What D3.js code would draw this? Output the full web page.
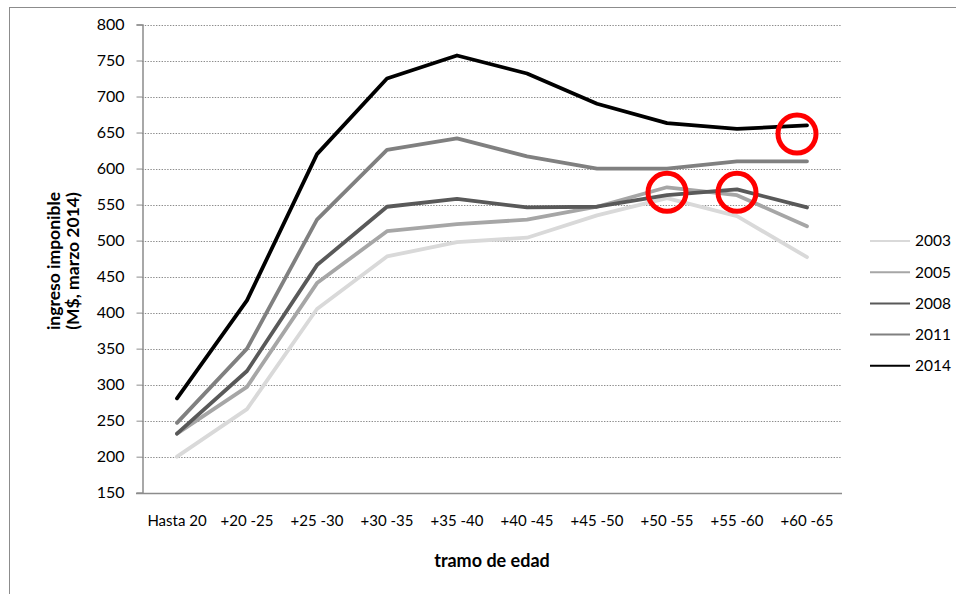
<!DOCTYPE html>
<html>
<head>
<meta charset="utf-8">
<script src="https://cdn.jsdelivr.net/npm/d3@7"></script>
<style>
  body { margin: 0; background: #fff; }
  svg { font-family: Lato, "Open Sans", sans-serif; }
</style>
</head>
<body>
<svg id="svg"></svg>
<script>
// age brackets on the x axis
let categories = ["Hasta 20", "+20 -25", "+25 -30", "+30 -35", "+35 -40", "+40 -45", "+45 -50", "+50 -55", "+55 -60", "+60 -65"];
let yTicks = [150, 200, 250, 300, 350, 400, 450, 500, 550, 600, 650, 700, 750, 800];

let years = ["2003", "2005", "2008", "2011", "2014"];
let v2003 = [200, 266, 405, 478, 498, 504, 535, 559, 534, 477];
let v2005 = [232, 297, 441, 513, 523, 529, 547, 574, 563, 520];
let v2008 = [232, 319, 466, 547, 558, 546, 547, 563, 571, 546];
let v2011 = [247, 350, 529, 626, 642, 617, 600, 600, 610, 610];
let v2014 = [281, 417, 620, 725, 757, 732, 690, 663, 655, 660];

// red circles drawn on top of the chart
let markCats = ["+50 -55", "+55 -60", "+60 -65"];
let markVals = [567, 567, 648];

let width = 956, height = 594;
let colors = {"2003": "#d9d9d9", "2005": "#a6a6a6", "2008": "#595959", "2011": "#808080", "2014": "#000000"};
let seriesData = {"2003": v2003, "2005": v2005, "2008": v2008, "2011": v2011, "2014": v2014};

let svg = d3.select("#svg").attr("width", width).attr("height", height);

// outer frame (only left and top edges show)
svg.append("rect")
    .attr("x", 9.5).attr("y", 7.5)
    .attr("width", 1000).attr("height", 1000)
    .attr("fill", "none").attr("stroke", "#8c8c8c");

let x = d3.scaleBand().domain(categories).range([142, 842]).padding(0);
let y = d3.scaleLinear().domain([150, 800]).range([492.7, 24.5]);
let cx = c => x(c) + x.bandwidth() / 2;

// dotted gridlines
svg.append("g").selectAll("line")
    .data(yTicks.filter(t => t > 150))
    .join("line")
    .attr("x1", 142).attr("x2", 842)
    .attr("y1", d => Math.round(y(d)) + 0.5).attr("y2", d => Math.round(y(d)) + 0.5)
    .attr("stroke", "#8c8c8c")
    .attr("stroke-dasharray", "1.4,1.4");

// y axis
let yAxis = svg.append("g")
    .attr("transform", "translate(142.5,0)")
    .call(d3.axisLeft(y).tickValues(yTicks).tickSize(6).tickPadding(12));
yAxis.select(".domain").attr("stroke", "#8c8c8c").attr("stroke-width", 1.5);
yAxis.selectAll(".tick line").attr("stroke", "#8c8c8c");
yAxis.selectAll("text").attr("font-size", 16).attr("fill", "#000").attr("font-family", "Lato");

// x axis
let xAxis = svg.append("g")
    .attr("transform", "translate(0,493)")
    .call(d3.axisBottom(x).tickSize(0).tickPadding(22));
xAxis.select(".domain").attr("d", "M136,0.5H842").attr("stroke", "#8c8c8c").attr("stroke-width", 1.5);
xAxis.selectAll("text").attr("font-size", 15).attr("fill", "#000").attr("font-family", "Lato");

// axis titles
svg.append("text")
    .attr("x", 492).attr("y", 567)
    .attr("text-anchor", "middle")
    .attr("font-size", 18).attr("font-weight", "bold")
    .text("tramo de edad");

let yt = svg.append("text")
    .attr("transform", "translate(60,261) rotate(-90)")
    .attr("text-anchor", "middle")
    .attr("font-size", 17.5).attr("font-weight", "bold");
yt.append("tspan").attr("x", 0).attr("y", 0).text("ingreso imponible");
yt.append("tspan").attr("x", 0).attr("y", 19).text("(M$, marzo 2014)");

// lines
let line = d3.line()
    .x((d, i) => cx(categories[i]))
    .y(d => y(d));

svg.append("g").selectAll("path")
    .data(years)
    .join("path")
    .attr("d", yr => line(seriesData[yr]))
    .attr("fill", "none")
    .attr("stroke", yr => colors[yr])
    .attr("stroke-width", 3.8)
    .attr("stroke-linejoin", "round")
    .attr("stroke-linecap", "round");

// legend
let leg = svg.append("g").selectAll("g")
    .data(years)
    .join("g")
    .attr("transform", (d, i) => `translate(870,${241 + i * 31.2})`);
leg.append("line")
    .attr("x1", 0).attr("x2", 40)
    .attr("stroke", d => colors[d]).attr("stroke-width", 2);
leg.append("text")
    .attr("x", 45).attr("dy", "0.35em")
    .attr("font-size", 15.5)
    .text(d => d);

// red annotation circles
let markShift = [0, 0, -10];
svg.append("g").selectAll("circle")
    .data(markCats)
    .join("circle")
    .attr("cx", (d, i) => cx(d) + markShift[i])
    .attr("cy", (d, i) => y(markVals[i]))
    .attr("r", 19)
    .attr("fill", "none")
    .attr("stroke", "#ff0000")
    .attr("stroke-width", 5);
</script>
</body>
</html>
